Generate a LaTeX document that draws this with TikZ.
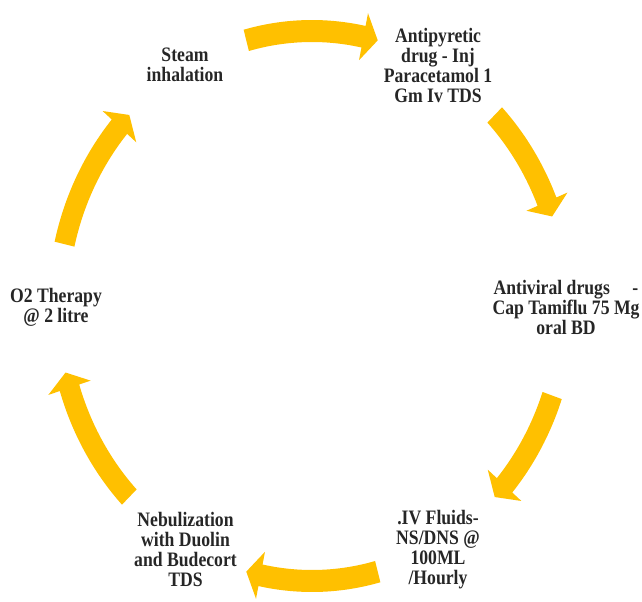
\documentclass[tikz,border=0pt]{standalone}
\usepackage{fontspec}
\newfontfamily\cyclefont{Liberation Serif}[FakeStretch=0.86]
\usepackage{tikz}
\usetikzlibrary{positioning}
\usepackage{xcolor}
\definecolor{colgold}{RGB}{255,192,0}
\definecolor{coltext}{RGB}{38,38,38}

\begin{document}
\begin{tikzpicture}[
  x=0.75pt, y=0.75pt,
  stage/.style={align=center, inner sep=0pt, text=coltext,
                font=\cyclefont\bfseries\fontsize{15.4}{15}\selectfont},
  cycarrow/.style={fill=colgold, draw=none}
]
\useasboundingbox (0,0) rectangle (642,601);

% Stages of the care cycle
\node[stage] (steam) at (185,536.5) {Steam\\inhalation};
\node[stage] (antipyr) at (438,536) {Antipyretic\\drug - Inj\\Paracetamol 1\\Gm Iv TDS};
\node[stage] (antivir) at (566,294) {Antiviral drugs\hspace{1.1em}-\\Cap Tamiflu 75 Mg\\oral BD};
\node[stage] (fluids) at (438,51.5) {.IV Fluids-\\NS/DNS @\\100ML\\/Hourly};
\node[stage] (nebul) at (185.5,51.5) {Nebulization\\with Duolin\\and Budecort\\TDS};
\node[stage] (oxygen) at (56,294) {O2 Therapy\\@ 2 litre};

% Curved block arrows round the cycle (tail angle / tip angle)
\begin{scope}[shift={(312,295)}, xscale=0.9236]
\foreach \a/\b in {105/75, 44/19, -19/-44, -75/-105, -136/-166, 167/136}{
  \pgfmathsetmacro{\c}{\b+3.3}
  \fill[cycarrow] (\a:286) arc[start angle=\a, end angle=\c, radius=286]
    -- (\c:299) -- (\b:275) -- (\c:251) -- (\c:264)
    arc[start angle=\c, end angle=\a, radius=264] -- cycle;
}
\end{scope}
\end{tikzpicture}
\end{document}
